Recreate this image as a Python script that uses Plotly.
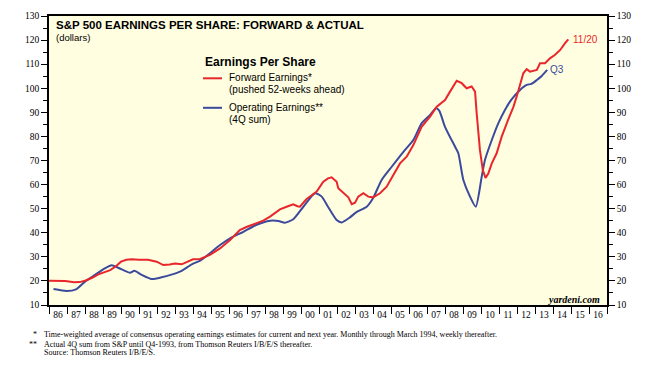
import plotly.graph_objects as go

# ---------------- data (decimal years, dollars) ----------------
fwd_dates = [1986.0, 1986.5, 1986.9, 1987.4, 1987.7, 1988.0, 1988.4, 1988.74, 1989.1, 1989.4,
             1989.7, 1990.0, 1990.3, 1990.6, 1991.0, 1991.5, 1991.98, 1992.35, 1992.7, 1993.0,
             1993.37, 1993.74, 1994.0, 1994.4, 1994.94, 1995.5, 1996.06, 1996.6, 1997.0, 1997.5,
             1997.9, 1998.28, 1998.83, 1999.2, 1999.57, 1999.8, 1999.94, 2000.3, 2000.87, 2001.24,
             2001.5, 2001.7, 2001.98, 2002.07, 2002.35, 2002.63, 2002.82, 2003.0, 2003.18, 2003.46,
             2003.74, 2004.0, 2004.39, 2004.76, 2005.13, 2005.5, 2005.87, 2006.24, 2006.7, 2007.17,
             2007.54, 2008.0, 2008.28, 2008.65, 2008.93, 2009.2, 2009.48, 2009.67, 2009.76, 2009.94,
             2010.1, 2010.25, 2010.4, 2010.6, 2010.87, 2011.15, 2011.5, 2011.8, 2011.98, 2012.2,
             2012.35, 2012.54, 2012.72, 2013.1, 2013.28, 2013.56, 2013.83, 2014.1, 2014.4, 2014.67,
             2014.85]
fwd_values = [20.1, 20.0, 20.0, 19.4, 19.5, 20.1, 21.3, 22.7, 23.6, 24.5,
              26.0, 28.0, 28.8, 29.0, 28.8, 28.8, 28.0, 26.6, 26.8, 27.2,
              26.9, 28.3, 29.0, 29.1, 30.8, 33.5, 37.0, 41.1, 42.5, 43.9,
              45.0, 46.7, 49.7, 50.8, 51.8, 51.0, 50.8, 53.9, 57.1, 61.2,
              62.6, 63.0, 61.2, 58.5, 56.4, 54.7, 51.9, 52.5, 55.0, 56.4,
              55.0, 54.7, 56.4, 59.1, 64.0, 68.8, 71.6, 76.4, 84.0, 88.2,
              92.3, 95.1, 98.6, 103.1, 102.1, 100.0, 100.7, 98.6, 89.6, 74.4,
              66.0, 62.8, 64.5, 68.8, 73.0, 79.9, 86.8, 92.3, 96.5, 102.7,
              106.2, 107.9, 106.9, 107.6, 110.4, 110.4, 112.4, 113.8, 115.9, 118.7,
              120.3]

op_dates = [1986.25, 1986.98, 1987.5, 1988.0, 1988.56, 1989.1, 1989.48, 1990.04, 1990.5, 1990.74,
            1991.15, 1991.7, 1992.26, 1992.8, 1993.37, 1993.93, 1994.4, 1994.94, 1995.5, 1996.06,
            1996.8, 1997.5, 1998.28, 1998.75, 1999.1, 1999.57, 2000.13, 2000.78, 2001.15, 2001.5,
            2001.98, 2002.26, 2002.72, 2003.1, 2003.65, 2004.0, 2004.48, 2005.04, 2005.7, 2006.24,
            2006.7, 2007.17, 2007.5, 2007.68, 2008.0, 2008.56, 2008.74, 2009.02, 2009.39, 2009.71,
            2010.04, 2010.22, 2010.6, 2010.96, 2011.33, 2011.7, 2012.17, 2012.54, 2012.8, 2013.1,
            2013.37, 2013.68]
op_values = [16.6, 15.8, 16.5, 19.7, 22.5, 25.2, 26.5, 24.8, 23.4, 24.2,
             22.5, 20.8, 21.5, 22.6, 24.2, 26.9, 28.4, 31.5, 34.9, 37.7,
             40.4, 43.2, 45.0, 44.9, 44.2, 45.6, 50.8, 56.4, 55.0, 50.8,
             45.3, 44.3, 46.4, 48.7, 50.8, 54.3, 61.9, 67.4, 73.7, 78.5,
             85.4, 88.9, 91.7, 90.7, 84.0, 75.7, 73.0, 61.9, 55.0, 50.8,
             63.3, 70.2, 78.5, 85.4, 91.0, 95.4, 99.3, 101.4, 101.8, 103.4,
             105.1, 107.6]

year_labels = ['86', '87', '88', '89', '90', '91', '92', '93', '94', '95', '96', '97', '98', '99',
               '00', '01', '02', '03', '04', '05', '06', '07', '08', '09', '10', '11', '12', '13',
               '14', '15', '16']
first_year = 1986
y_ticks = [10, 20, 30, 40, 50, 60, 70, 80, 90, 100, 110, 120, 130]

RED = '#E8262C'
BLUE = '#3B4A9C'
SERIF = 'Liberation Serif, Times New Roman, serif'
SANS = 'Liberation Sans, Arial, sans-serif'

# plot-area geometry helpers (pixels -> paper fractions)
L, R, T, B = 49, 58, 16, 62
W, H = 665, 367
PW, PH = W - L - R, H - T - B


def px(x):
    return (x - L) / PW


def py(y):
    return (H - B - y) / PH


fig = go.Figure()
fig.add_trace(go.Scatter(x=op_dates, y=op_values, mode='lines',
                         line=dict(color=BLUE, width=2, shape='spline', smoothing=0.6),
                         name='Operating Earnings', yaxis='y'))
fig.add_trace(go.Scatter(x=fwd_dates, y=fwd_values, mode='lines',
                         line=dict(color=RED, width=2),
                         name='Forward Earnings', yaxis='y2'))

n_years = len(year_labels)
label_pos = [first_year + i + 0.5 for i in range(n_years)]
bound_pos = [first_year + i for i in range(n_years + 1)]

yaxis_common = dict(range=[10, 130], tickvals=y_ticks, ticks='outside', ticklen=6,
                    tickwidth=1, tickcolor='black', showgrid=False, zeroline=False,
                    showline=True, linecolor='black', linewidth=1.5, automargin=False,
                    tickfont=dict(family=SERIF, size=9.5, color='black'),
                    minor=dict(tickvals=[v + 5 for v in y_ticks[:-1]], ticks='outside',
                               ticklen=4, tickcolor='black', tickwidth=1))

fig.update_layout(
    width=W, height=H,
    margin=dict(l=L, r=R, t=T, b=B),
    paper_bgcolor='white', plot_bgcolor='#FFFEE0',
    showlegend=False,
    xaxis=dict(range=[first_year, first_year + n_years], tickvals=label_pos, ticktext=year_labels,
               ticks='', showgrid=False, zeroline=False, showline=True, linecolor='black',
               linewidth=1.5, mirror=True, automargin=False,
               tickfont=dict(family=SERIF, size=9.5, color='black'),
               minor=dict(tickvals=bound_pos, ticks='outside', ticklen=7,
                          tickcolor='black', tickwidth=1)),
    yaxis=dict(side='left', **yaxis_common),
    yaxis2=dict(side='right', overlaying='y', **yaxis_common),
)

# title
fig.add_annotation(xref='paper', yref='paper', x=px(54), y=py(25), xanchor='left', yanchor='middle',
                   text='<b>S&P 500 EARNINGS PER SHARE: FORWARD & ACTUAL</b>', showarrow=False,
                   font=dict(family=SANS, size=11.5, color='black'))
fig.add_annotation(xref='paper', yref='paper', x=px(54), y=py(38), xanchor='left', yanchor='middle',
                   text='(dollars)', showarrow=False, font=dict(family=SANS, size=9.5, color='black'))

# legend (manual)
fig.add_annotation(xref='paper', yref='paper', x=px(203), y=py(62), xanchor='left', yanchor='middle',
                   text='<b>Earnings Per Share</b>', showarrow=False,
                   font=dict(family=SANS, size=12, color='black'))
for yc, col, l1, l2 in [(78, RED, 'Forward Earnings*', '(pushed 52-weeks ahead)'),
                        (107.5, BLUE, 'Operating Earnings**', '(4Q sum)')]:
    fig.add_shape(type='line', xref='paper', yref='paper', x0=px(203), x1=px(222),
                  y0=py(yc + 0.3), y1=py(yc + 0.3), line=dict(color=col, width=2))
    fig.add_annotation(xref='paper', yref='paper', x=px(227), y=py(yc), xanchor='left',
                       yanchor='middle', text=l1, showarrow=False,
                       font=dict(family=SANS, size=10, color='black'))
    fig.add_annotation(xref='paper', yref='paper', x=px(227), y=py(yc + 11.7), xanchor='left',
                       yanchor='middle', text=l2, showarrow=False,
                       font=dict(family=SANS, size=10, color='black'))

# end labels
fig.add_annotation(x=fwd_dates[-1], y=fwd_values[-1], xanchor='left', yanchor='middle', xshift=3,
                   text='11/20', showarrow=False, font=dict(family=SANS, size=10, color=RED),
                   yref='y2')
fig.add_annotation(x=op_dates[-1], y=op_values[-1], xanchor='left', yanchor='middle', xshift=1,
                   text='Q3', showarrow=False, font=dict(family=SANS, size=10, color=BLUE))

# source
fig.add_annotation(xref='paper', yref='paper', x=px(602), y=py(299), xanchor='right', yanchor='middle',
                   text='<b><i>yardeni.com</i></b>', showarrow=False,
                   font=dict(family=SERIF, size=10, color='black'))

foot_lines = [('*', 'Time-weighted average of consensus operating earnings estimates for current and '
                    'next year. Monthly through March 1994, weekly thereafter.', 334),
              ('**', 'Actual 4Q sum from S&P until Q4-1993, from Thomson Reuters I/B/E/S thereafter.', 344),
              ('', 'Source: Thomson Reuters I/B/E/S.', 353)]
for mark, txt, yy in foot_lines:
    fig.add_annotation(xref='paper', yref='paper', x=px(42), y=py(yy), xanchor='left',
                       yanchor='middle', text=txt, showarrow=False,
                       font=dict(family=SERIF, size=8, color='black'))
    if mark:
        fig.add_annotation(xref='paper', yref='paper', x=px(39), y=py(yy), xanchor='right',
                           yanchor='middle', text=mark, showarrow=False,
                           font=dict(family=SERIF, size=8, color='black'))

fig.write_html('out.html', config={'displayModeBar': False},
               post_script="document.body.style.margin='0';")
